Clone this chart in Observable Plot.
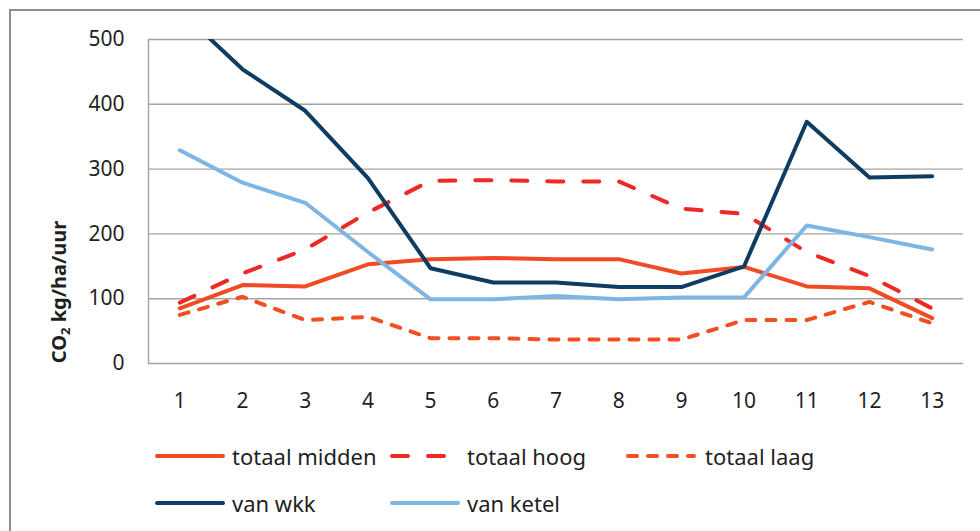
<!DOCTYPE html>
<html>
<head>
<meta charset="utf-8">
<script src="https://cdn.jsdelivr.net/npm/d3@7"></script>
<script src="https://cdn.jsdelivr.net/npm/@observablehq/plot@0.6"></script>
<style>
  body { margin: 0; background: #fff; font-family: "Noto Sans", sans-serif; }
  #wrap { position: relative; width: 980px; height: 531px; overflow: hidden; background: #fff; }
  #border { position: absolute; left: 9px; top: 9px; width: 1000px; height: 600px; border: 2px solid #8e8e8e; box-sizing: border-box; }
  #chart { position: absolute; left: 0; top: 0; }
  #legend { position: absolute; left: 0; top: 420px; width: 980px; height: 111px; }
  .item { position: absolute; display: flex; align-items: center; font-size: 22px; color: #1f1f1f; transform: translateY(-50%); white-space: nowrap; }
  .item svg { display: block; }
</style>
</head>
<body>
<div id="wrap">
  <div id="border"></div>
  <div id="chart"></div>
  <div id="legend"></div>
</div>
<script>
// ---- data ----
const categories = [1, 2, 3, 4, 5, 6, 7, 8, 9, 10, 11, 12, 13];
const totaalMidden = [85, 121, 119, 153, 161, 163, 161, 161, 139, 149, 119, 116, 70];
const totaalHoog   = [94, 139, 176, 233, 282, 283, 281, 281, 239, 231, 172, 135, 85];
const totaalLaag   = [75, 103, 67, 72, 39, 39, 37, 37, 37, 67, 67, 95, 62];
const vanWkk       = [545, 454, 390, 286, 147, 125, 125, 118, 118, 150, 373, 287, 289];
const vanKetel     = [329, 279, 248, 172, 99, 99, 104, 99, 102, 102, 213, 195, 176];
const yTicks = [0, 100, 200, 300, 400, 500];
const seriesNames = ["totaal midden", "totaal hoog", "totaal laag", "van wkk", "van ketel"];
const yLabel = "CO₂ kg/ha/uur";

// ---- styles ----
const seriesValues = [totaalMidden, totaalHoog, totaalLaag, vanWkk, vanKetel];
const seriesColors = ["#F04B24", "#EC2A25", "#F04F24", "#0F3C61", "#7DB6E4"];
const seriesDash = [null, "16,20", "9,11", null, null];

const rows = [];
seriesNames.forEach((name, i) => {
  categories.forEach((c, j) => rows.push({series: name, x: c, v: seriesValues[i][j]}));
});

const lineMarks = seriesNames.map((name, i) =>
  Plot.line(rows.filter(d => d.series === name), {
    x: "x", y: "v",
    stroke: seriesColors[i],
    strokeWidth: 4,
    strokeDasharray: seriesDash[i] || undefined,
    strokeLinecap: "round",
    strokeLinejoin: "round",
    clip: true
  })
);

const chart = Plot.plot({
  width: 980,
  height: 420,
  marginLeft: 148,
  marginRight: 17,
  marginTop: 39,
  marginBottom: 57,
  style: { fontFamily: "Noto Sans", fontSize: "21px", color: "#1f1f1f", background: "transparent" },
  x: { type: "linear", domain: [0.5, 13.5], ticks: categories, tickSize: 0, tickPadding: 30, tickFormat: d => String(d), label: null },
  y: { domain: [0, 500], ticks: yTicks, tickSize: 0, tickPadding: 24, tickFormat: d => String(d), label: null },
  marks: [
    Plot.ruleY(yTicks, { stroke: "#a3a3a3", strokeWidth: 1.4 }),
    Plot.ruleX([0.5], { stroke: "#a3a3a3", strokeWidth: 1.4 }),
    ...lineMarks
  ]
});
document.getElementById("chart").appendChild(chart);

// y-axis title
const svg = d3.select(chart);
const t = svg.append("text")
  .attr("transform", "translate(66,292) rotate(-90)")
  .attr("text-anchor", "middle")
  .attr("font-family", "Noto Sans")
  .attr("font-weight", "bold")
  .attr("font-size", "20px")
  .attr("fill", "#1f1f1f");
t.append("tspan").text("CO");
t.append("tspan").attr("font-size", "13px").attr("dy", "4").text("2");
t.append("tspan").attr("dy", "-4").text(" kg/ha/uur");

// legend
const legendPos = [[155, 36], [390, 36], [626, 36], [155, 83], [390, 83]];
const legend = document.getElementById("legend");
seriesNames.forEach((name, i) => {
  const item = document.createElement("div");
  item.className = "item";
  item.style.left = legendPos[i][0] + "px";
  item.style.top = legendPos[i][1] + "px";
  const ns = "http://www.w3.org/2000/svg";
  const s = document.createElementNS(ns, "svg");
  s.setAttribute("width", 70); s.setAttribute("height", 10);
  const l = document.createElementNS(ns, "line");
  l.setAttribute("x1", 2); l.setAttribute("x2", 68);
  l.setAttribute("y1", 5); l.setAttribute("y2", 5);
  l.setAttribute("stroke", seriesColors[i]);
  l.setAttribute("stroke-width", 4);
  l.setAttribute("stroke-linecap", "round");
  if (seriesDash[i]) l.setAttribute("stroke-dasharray", seriesDash[i]);
  s.appendChild(l);
  item.appendChild(s);
  const sp = document.createElement("span");
  sp.style.marginLeft = (i === 2 ? "9px" : "7px");
  sp.textContent = name;
  item.appendChild(sp);
  legend.appendChild(item);
});
</script>
</body>
</html>
